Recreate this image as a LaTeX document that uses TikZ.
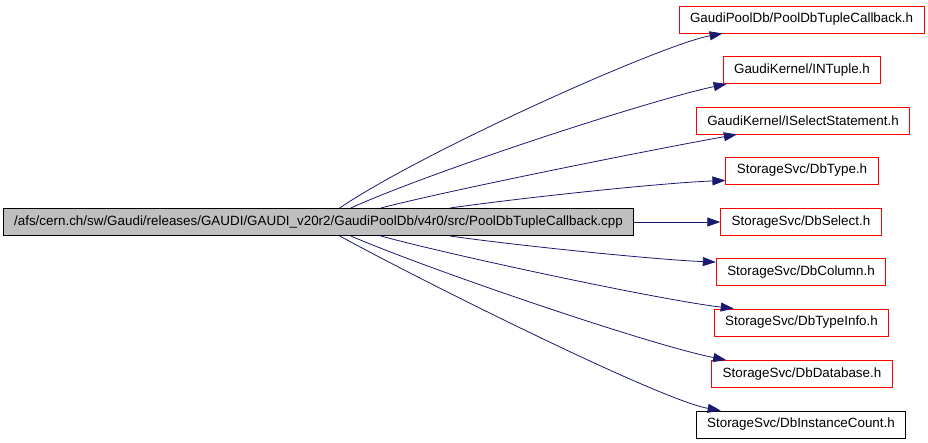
\documentclass[tikz,border=0pt]{standalone}
\usepackage{fontspec}
\setmainfont{Liberation Sans}
\usetikzlibrary{arrows.meta}
\definecolor{edgeblue}{HTML}{191970}
\definecolor{srcgray}{HTML}{BFBFBF}
\tikzset{
  file/.style={draw=red,line width=0.9pt,inner xsep=11pt,inner ysep=0pt,
               minimum height=27pt,font=\fontsize{13.4}{15}\selectfont},
  srcfile/.style={file,draw=black,fill=srcgray},
  plain/.style={file,draw=black},
  dep/.style={draw=edgeblue,line width=0.8pt,
              -{Triangle[length=13pt,width=9pt]}}
}

\begin{document}
\begin{tikzpicture}[x=1pt,y=-1pt]
  \useasboundingbox (0,0) rectangle (928,442);

  % the source file and what it includes
  \node[srcfile,minimum width=627pt] (cpp) at (318.5,222)
    {/afs/cern.ch/sw/Gaudi/releases/GAUDI/GAUDI\_v20r2/GaudiPoolDb/v4r0/src/PoolDbTupleCallback.cpp};

  \node[file] (tcb) at (801.5,19.5) {GaudiPoolDb/PoolDbTupleCallback.h};
  \node[file] (ntup) at (802,70) {GaudiKernel/INTuple.h};
  \node[file] (isel) at (803,120.5) {GaudiKernel/ISelectStatement.h};
  \node[file] (dbtype) at (802,170.5) {StorageSvc/DbType.h};
  \node[file] (dbsel) at (801,222) {StorageSvc/DbSelect.h};
  \node[file] (dbcol) at (801,272) {StorageSvc/DbColumn.h};
  \node[file] (dbinfo) at (801.5,322.5) {StorageSvc/DbTypeInfo.h};
  \node[file] (dbdb) at (802,374) {StorageSvc/DbDatabase.h};
  \node[plain] (dbcnt) at (801,424.5) {StorageSvc/DbInstanceCount.h};

  % include edges
  \draw[dep] ([xshift=337pt]cpp.north west) .. controls (420,153) and (660,45) .. ([xshift=44pt]tcb.south west);
  \draw[dep] ([xshift=348pt]cpp.north west) .. controls (430,172) and (650,100) .. ([xshift=4pt]ntup.south west);
  \draw[dep] ([xshift=378pt]cpp.north west) .. controls (450,190) and (650,150) .. ([xshift=41pt]isel.south west);
  \draw[dep] ([xshift=447pt]cpp.north west) .. controls (520,198) and (660,183) .. ([yshift=4pt]dbtype.south west);
  \draw[dep] (cpp.east) -- (dbsel.west);
  \draw[dep] ([xshift=447pt]cpp.south west) .. controls (520,246) and (660,260) .. ([yshift=-4pt]dbcol.north west);
  \draw[dep] ([xshift=378pt]cpp.south west) .. controls (450,255) and (660,300) .. ([xshift=20pt]dbinfo.north west);
  \draw[dep] ([xshift=348pt]cpp.south west) .. controls (430,270) and (650,345) .. ([xshift=15pt]dbdb.north west);
  \draw[dep] ([xshift=337pt]cpp.south west) .. controls (420,280) and (660,400) .. ([xshift=25pt]dbcnt.north west);
\end{tikzpicture}
\end{document}
